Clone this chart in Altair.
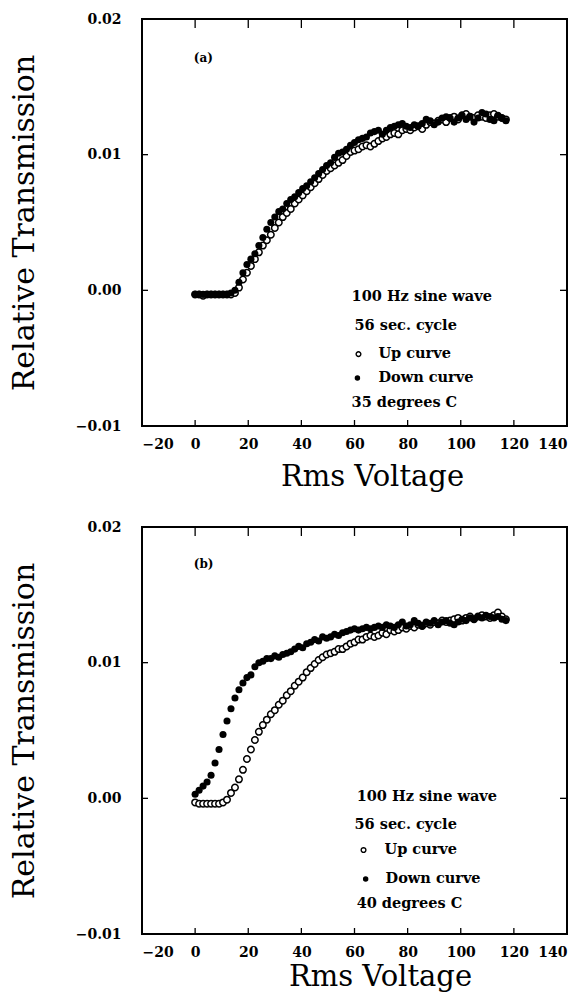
import altair as alt
import pandas as pd

# ---------------- data ----------------
VOLTS = [0, 1.5, 3, 4.5, 6, 7.5, 9, 10.5, 12, 13.5,
         15, 16.5, 18, 19.5, 21, 22.5, 24, 25.5, 27, 28.5,
         30, 31.5, 33, 34.5, 36, 37.5, 39, 40.5, 42, 43.5,
         45, 46.5, 48, 49.5, 51, 52.5, 54, 55.5, 57, 58.5,
         60, 61.5, 63, 64.5, 66, 67.5, 69, 70.5, 72, 73.5,
         75, 76.5, 78, 79.5, 81, 82.5, 84, 85.5, 87, 88.5,
         90, 91.5, 93, 94.5, 96, 97.5, 99, 100.5, 102, 103.5,
         105, 106.5, 108, 109.5, 111, 112.5, 114, 115.5, 117]

A_DOWN = [-0.0003, -0.0003, -0.0003, -0.0003, -0.0003, -0.0003, -0.0003, -0.0003, -0.0003, -0.0002,
          0.0000, 0.0006, 0.0013, 0.0019, 0.0023, 0.0027, 0.0033, 0.0039, 0.0045, 0.0050,
          0.0054, 0.0058, 0.0060, 0.0064, 0.0067, 0.0069, 0.0072, 0.0075, 0.0077, 0.0080,
          0.0083, 0.0086, 0.0089, 0.0092, 0.0094, 0.0098, 0.0101, 0.0102, 0.0104, 0.0107,
          0.0109, 0.0111, 0.0112, 0.0113, 0.0116, 0.0117, 0.0118, 0.0115, 0.0118, 0.0120,
          0.0121, 0.0122, 0.0123, 0.0121, 0.0120, 0.0122, 0.0121, 0.0123, 0.0126, 0.0125,
          0.0122, 0.0124, 0.0127, 0.0128, 0.0127, 0.0124, 0.0127, 0.0129, 0.0126, 0.0128,
          0.0124, 0.0127, 0.0131, 0.0130, 0.0126, 0.0125, 0.0129, 0.0127, 0.0125]

A_UP = [-0.0003, -0.0003, -0.0004, -0.0003, -0.0003, -0.0003, -0.0003, -0.0003, -0.0003, -0.0003,
        -0.0002, 0.0002, 0.0008, 0.0013, 0.0018, 0.0023, 0.0028, 0.0033, 0.0037, 0.0041,
        0.0046, 0.0050, 0.0054, 0.0057, 0.0060, 0.0064, 0.0067, 0.0070, 0.0073, 0.0076,
        0.0079, 0.0082, 0.0085, 0.0088, 0.0090, 0.0092, 0.0094, 0.0096, 0.0099, 0.0102,
        0.0103, 0.0104, 0.0106, 0.0107, 0.0106, 0.0108, 0.0110, 0.0112, 0.0113, 0.0115,
        0.0116, 0.0115, 0.0118, 0.0119, 0.0118, 0.0120, 0.0121, 0.0119, 0.0122, 0.0124,
        0.0123, 0.0125, 0.0126, 0.0124, 0.0127, 0.0128, 0.0126, 0.0129, 0.0130, 0.0128,
        0.0127, 0.0129, 0.0128, 0.0127, 0.0129, 0.0130, 0.0128, 0.0127, 0.0126]

B_DOWN = [0.0003, 0.0006, 0.0009, 0.0012, 0.0017, 0.0026, 0.0036, 0.0047, 0.0057, 0.0066,
          0.0074, 0.0080, 0.0085, 0.0089, 0.0091, 0.0097, 0.0100, 0.0101, 0.0103, 0.0103,
          0.0105, 0.0104, 0.0106, 0.0107, 0.0108, 0.0110, 0.0112, 0.0111, 0.0114, 0.0115,
          0.0117, 0.0116, 0.0119, 0.0118, 0.0119, 0.0121, 0.0120, 0.0122, 0.0123, 0.0124,
          0.0125, 0.0124, 0.0125, 0.0126, 0.0125, 0.0126, 0.0127, 0.0126, 0.0128, 0.0127,
          0.0126, 0.0128, 0.0130, 0.0127, 0.0128, 0.0131, 0.0129, 0.0127, 0.0130, 0.0129,
          0.0131, 0.0128, 0.0130, 0.0131, 0.0129, 0.0128, 0.0130, 0.0132, 0.0131, 0.0133,
          0.0132, 0.0134, 0.0133, 0.0135, 0.0134, 0.0133, 0.0134, 0.0132, 0.0131]

B_UP = [-0.0003, -0.0004, -0.0004, -0.0004, -0.0004, -0.0004, -0.0004, -0.0003, -0.0001, 0.0004,
        0.0008, 0.0014, 0.0021, 0.0029, 0.0036, 0.0043, 0.0049, 0.0054, 0.0058, 0.0062,
        0.0065, 0.0069, 0.0072, 0.0076, 0.0079, 0.0083, 0.0086, 0.0089, 0.0093, 0.0096,
        0.0099, 0.0102, 0.0104, 0.0106, 0.0107, 0.0108, 0.0110, 0.0110, 0.0112, 0.0114,
        0.0115, 0.0117, 0.0117, 0.0119, 0.0120, 0.0119, 0.0120, 0.0122, 0.0121, 0.0124,
        0.0123, 0.0124, 0.0126, 0.0125, 0.0127, 0.0126, 0.0128, 0.0127, 0.0129, 0.0128,
        0.0130, 0.0129, 0.0131, 0.0130, 0.0131, 0.0132, 0.0133, 0.0131, 0.0133, 0.0134,
        0.0132, 0.0134, 0.0135, 0.0134, 0.0133, 0.0135, 0.0137, 0.0134, 0.0132]

X_TICKS = [-20, 0, 20, 40, 60, 80, 100, 120, 140]
Y_TICKS = [-0.01, 0.0, 0.01, 0.02]
INNER_X = [0, 20, 40, 60, 80, 100, 120]
INNER_Y = [0.0, 0.01]

A_LABEL = ["(a)"]
A_LABEL_X = [-0.5]
A_LABEL_Y = [0.0171]
A_NOTES = ["100 Hz sine wave", "56 sec. cycle", "Up curve", "Down curve", "35 degrees C"]
A_NOTES_X = [58.9, 60.0, 69.0, 69.0, 58.9]
A_NOTES_Y = [-0.00046, -0.00266, -0.0047, -0.00647, -0.0083]
A_SYM_X = [61.5, 61.1]
A_SYM_Y = [-0.0047, -0.00647]

B_LABEL = ["(b)"]
B_LABEL_X = [-0.5]
B_LABEL_Y = [0.0173]
B_NOTES = ["100 Hz sine wave", "56 sec. cycle", "Up curve", "Down curve", "40 degrees C"]
B_NOTES_X = [60.8, 60.0, 71.3, 71.7, 60.8]
B_NOTES_Y = [0.00007, -0.00198, -0.00381, -0.00594, -0.00778]
B_SYM_X = [63.4, 64.2]
B_SYM_Y = [-0.00381, -0.00594]

W, H = 425, 407
FONT = "DejaVu Serif"

xs = alt.Scale(domain=[-20, 140], nice=False, zero=False)
ys = alt.Scale(domain=[-0.01, 0.02], nice=False, zero=False)


def panel(up, down, label, lx, ly, notes, nx, ny, sx, sy, xtitle_x, xtitle_y):
    x_axis = alt.Axis(values=X_TICKS, title="Rms Voltage", grid=False, ticks=False,
                      domain=False, labelPadding=11, titleX=xtitle_x, titleY=xtitle_y,
                      titleBaseline="alphabetic", titleAlign="center", titleFontSize=29)
    y_axis = alt.Axis(values=Y_TICKS, format=".2f", title="Relative Transmission",
                      grid=False, ticks=False, domain=False, labelPadding=21,
                      titleX=-118, titleY=H / 2, titleAngle=-90, titleFontSize=30,
                      titleBaseline="middle", titleAlign="center")

    def X(field):
        return alt.X(field, scale=xs, axis=x_axis)

    def Y(field):
        return alt.Y(field, scale=ys, axis=y_axis)

    up_df = pd.DataFrame({"v": VOLTS, "t": up})
    down_df = pd.DataFrame({"v": VOLTS, "t": down})

    up_layer = alt.Chart(up_df).mark_point(
        shape="circle", filled=True, fill="white", stroke="black",
        strokeWidth=1.5, size=42, opacity=1
    ).encode(x=X("v:Q"), y=Y("t:Q"))

    down_layer = alt.Chart(down_df).mark_circle(color="black", size=50, opacity=1).encode(
        x=X("v:Q"), y=Y("t:Q"))

    tx_df = pd.DataFrame({"v": INNER_X})
    ty_df = pd.DataFrame({"t": INNER_Y})
    top_ticks = alt.Chart(tx_df).mark_rule(color="black", strokeWidth=1.3).encode(
        x=X("v:Q"), y=alt.value(0), y2=alt.value(9))
    bot_ticks = alt.Chart(tx_df).mark_rule(color="black", strokeWidth=1.3).encode(
        x=X("v:Q"), y=alt.value(H), y2=alt.value(H - 6))
    left_ticks = alt.Chart(ty_df).mark_rule(color="black", strokeWidth=1.3).encode(
        y=Y("t:Q"), x=alt.value(0), x2=alt.value(6))
    right_ticks = alt.Chart(ty_df).mark_rule(color="black", strokeWidth=1.3).encode(
        y=Y("t:Q"), x=alt.value(W), x2=alt.value(W - 7))

    lab = alt.Chart(pd.DataFrame({"v": lx, "t": ly, "s": label})).mark_text(
        align="left", baseline="middle", font=FONT, fontWeight="bold",
        fontSize=12, color="black"
    ).encode(x=X("v:Q"), y=Y("t:Q"), text="s:N")

    notes_layer = alt.Chart(pd.DataFrame({"v": nx, "t": ny, "s": notes})).mark_text(
        align="left", baseline="middle", font=FONT, fontWeight="bold",
        fontSize=14.5, color="black"
    ).encode(x=X("v:Q"), y=Y("t:Q"), text="s:N")

    sym_open = alt.Chart(pd.DataFrame({"v": sx[:1], "t": sy[:1]})).mark_point(
        shape="circle", filled=True, fill="white", stroke="black",
        strokeWidth=1.4, size=22, opacity=1
    ).encode(x=X("v:Q"), y=Y("t:Q"))
    sym_fill = alt.Chart(pd.DataFrame({"v": sx[1:], "t": sy[1:]})).mark_circle(
        color="black", size=30, opacity=1
    ).encode(x=X("v:Q"), y=Y("t:Q"))

    return alt.layer(up_layer, down_layer, top_ticks, bot_ticks, left_ticks,
                     right_ticks, lab, notes_layer, sym_open, sym_fill).properties(
        width=W, height=H)


pa = panel(A_UP, A_DOWN, A_LABEL, A_LABEL_X, A_LABEL_Y, A_NOTES, A_NOTES_X, A_NOTES_Y,
           A_SYM_X, A_SYM_Y, 230, 59)
pb = panel(B_UP, B_DOWN, B_LABEL, B_LABEL_X, B_LABEL_Y, B_NOTES, B_NOTES_X, B_NOTES_Y,
           B_SYM_X, B_SYM_Y, 238, 51)

chart = alt.vconcat(pa, pb, spacing=27).properties(
    padding={"left": 7, "top": 11, "right": 0, "bottom": 0},
    background="white"
).configure_view(
    stroke="black", strokeWidth=2
).configure_axis(
    labelFont=FONT, labelFontWeight="bold", labelFontSize=14, labelColor="black",
    titleFont=FONT, titleFontWeight="normal", titleFontSize=28, titleColor="black"
)

chart.save("out.html", embed_options={"renderer": "svg", "actions": False})
